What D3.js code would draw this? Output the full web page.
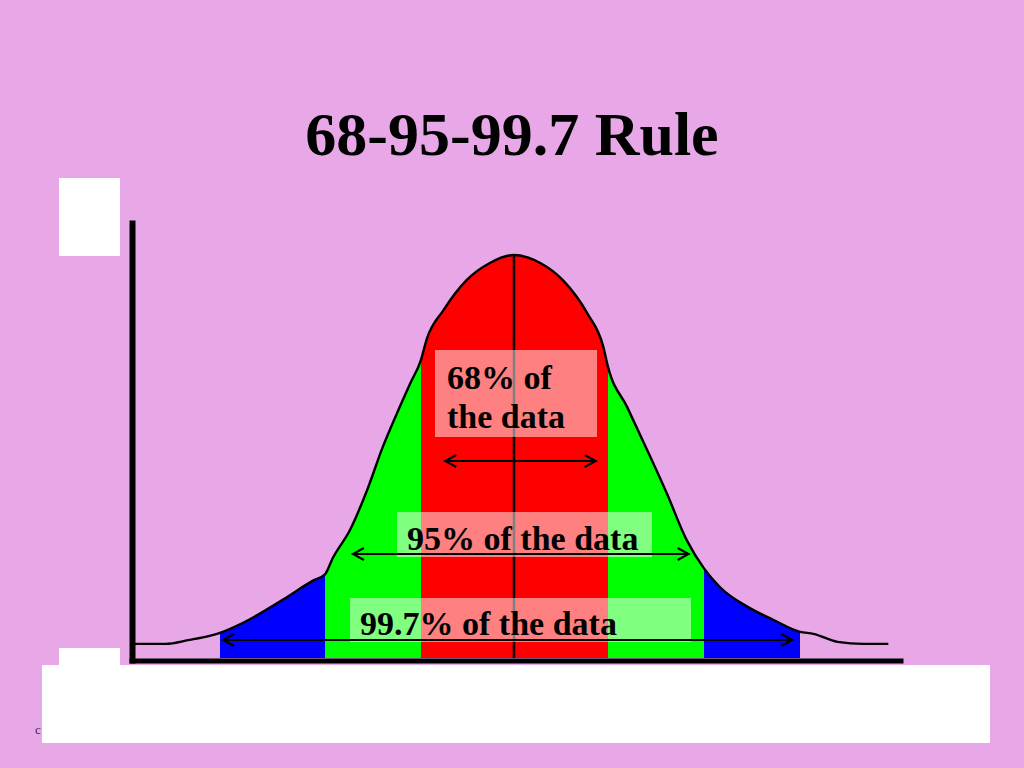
<!DOCTYPE html>
<html><head><meta charset="utf-8">
<script src="https://cdn.jsdelivr.net/npm/d3@7"></script>
<style>html,body{margin:0;padding:0;background:#E8A8E8;}svg{display:block;}</style>
</head><body>
<svg id="c" width="1024" height="768"></svg>
<script>
// ---- data ----
const title = "68-95-99.7 Rule";
// curve: x in standard deviations, y as density
const curveX = [-3.81,-3.52,-3.29,-3.10,-3.00,-2.78,-2.40,-2.11,-2.00,-1.92,-1.74,-1.56,-1.40,-1.25,-1.11,-1.00,-0.94,-0.76,-0.51,-0.26,0,0.28,0.52,0.78,0.95,1.00,1.20,1.41,1.61,1.82,2.00,2.17,2.45,2.72,3.00,3.14,3.39,3.66,3.92];
const curveY = [0.014,0.014,0.018,0.022,0.025,0.035,0.058,0.077,0.083,0.099,0.127,0.167,0.209,0.243,0.273,0.296,0.316,0.345,0.375,0.392,0.400,0.392,0.375,0.342,0.309,0.289,0.249,0.206,0.164,0.117,0.089,0.070,0.051,0.038,0.026,0.024,0.016,0.014,0.014];
const sigmaTicks = [-3,-2,-1,0,1,2,3];
const bandLo = [-3,-2,-1,1,2];
const bandHi = [-2,-1,1,2,3];
const bandColor = ["#0000FF","#00FF00","#FF0000","#00FF00","#0000FF"];
const labelText = ["95% of the data","99.7% of the data"];
const arrowLo = [-0.75,-1.72,-2.98];
const arrowHi = [0.88,1.85,2.93];

// ---- scales ----
const svg = d3.select("#c");
const x = d3.scaleLinear().domain(sigmaTicks).range([220,325,421,514,608,704,800]);
const y = d3.scaleLinear().domain([0,0.4]).range([658,255]);
const pts = curveX.map((v,i)=>[v,curveY[i]]);

svg.append("rect").attr("width",1024).attr("height",768).attr("fill","#E8A8E8");

// title
svg.append("text").attr("x",512).attr("y",155).attr("text-anchor","middle")
  .attr("font-family","'Liberation Serif','Times New Roman',serif").attr("font-weight","bold")
  .attr("font-size",62).attr("fill","#000").text(title);

// white decorative rectangles
svg.append("rect").attr("x",59).attr("y",178).attr("width",61).attr("height",78).attr("fill","#fff");
svg.append("text").attr("x",35).attr("y",734).attr("font-family","'Liberation Serif',serif").attr("font-size",13).attr("fill","#402848").text("c");
svg.append("rect").attr("x",59).attr("y",648).attr("width",61).attr("height",18).attr("fill","#fff");
svg.append("rect").attr("x",42).attr("y",665).attr("width",948).attr("height",78).attr("fill","#fff");

// bands
const defs = svg.append("defs");
const area = d3.area().x(d=>x(d[0])).y0(y(0)).y1(d=>y(d[1])).curve(d3.curveMonotoneX);
bandLo.forEach((lo,i)=>{
  defs.append("clipPath").attr("id","b"+i).append("rect")
    .attr("x",x(lo)).attr("y",0).attr("width",x(bandHi[i])-x(lo)).attr("height",y(0));
  svg.append("path").datum(pts).attr("d",area).attr("fill",bandColor[i]).attr("clip-path","url(#b"+i+")");
});

// curve
svg.append("path").datum(pts).attr("fill","none").attr("stroke","#000").attr("stroke-width",2.4)
  .attr("d",d3.line().x(d=>x(d[0])).y(d=>y(d[1])).curve(d3.curveMonotoneX));

// center line
svg.append("line").attr("x1",x(0)).attr("x2",x(0)).attr("y1",y(0.4)).attr("y2",y(0)).attr("stroke","#000").attr("stroke-width",2.5);

// axes
const gx = svg.append("g").attr("transform","translate(0,660.5)")
  .call(d3.axisBottom(d3.scaleLinear().range([129,903])).tickValues([]).tickSizeOuter(0));
gx.select(".domain").attr("stroke","#000").attr("stroke-width",5);
const gy = svg.append("g").attr("transform","translate(132,0)")
  .call(d3.axisLeft(d3.scaleLinear().range([663,220])).tickValues([]).tickSizeOuter(0));
gy.select(".domain").attr("stroke","#000").attr("stroke-width",6);

// label boxes
const font = "'Liberation Serif','Times New Roman',serif";
svg.append("rect").attr("x",435).attr("y",350).attr("width",162).attr("height",87).attr("fill","#fff").attr("fill-opacity",0.5);
svg.append("rect").attr("x",397).attr("y",512).attr("width",255).attr("height",45).attr("fill","#fff").attr("fill-opacity",0.5);
svg.append("rect").attr("x",350).attr("y",598).attr("width",341).attr("height",44).attr("fill","#fff").attr("fill-opacity",0.5);

const t1 = svg.append("text").attr("font-family",font).attr("font-weight","bold").attr("font-size",34).attr("fill","#000");
t1.append("tspan").attr("x",447).attr("y",389).text("68% of");
t1.append("tspan").attr("x",447).attr("y",428).text("the data");
svg.append("text").attr("x",407).attr("y",550).attr("font-family",font).attr("font-weight","bold").attr("font-size",34).text(labelText[0]);
svg.append("text").attr("x",360).attr("y",635).attr("font-family",font).attr("font-weight","bold").attr("font-size",34).text(labelText[1]);

// arrows
const arrowY = [461,554,640];
arrowLo.forEach((lo,i)=>{
  const x1 = x(lo), x2 = x(arrowHi[i]), yy = arrowY[i];
  const g = svg.append("g").attr("stroke","#000").attr("stroke-width",2).attr("fill","none");
  g.append("line").attr("x1",x1).attr("x2",x2).attr("y1",yy).attr("y2",yy);
  g.append("path").attr("d",`M${x1+12},${yy-6}L${x1+1},${yy}L${x1+12},${yy+6}`);
  g.append("path").attr("d",`M${x2-12},${yy-6}L${x2-1},${yy}L${x2-12},${yy+6}`);
});
</script>
</body></html>
